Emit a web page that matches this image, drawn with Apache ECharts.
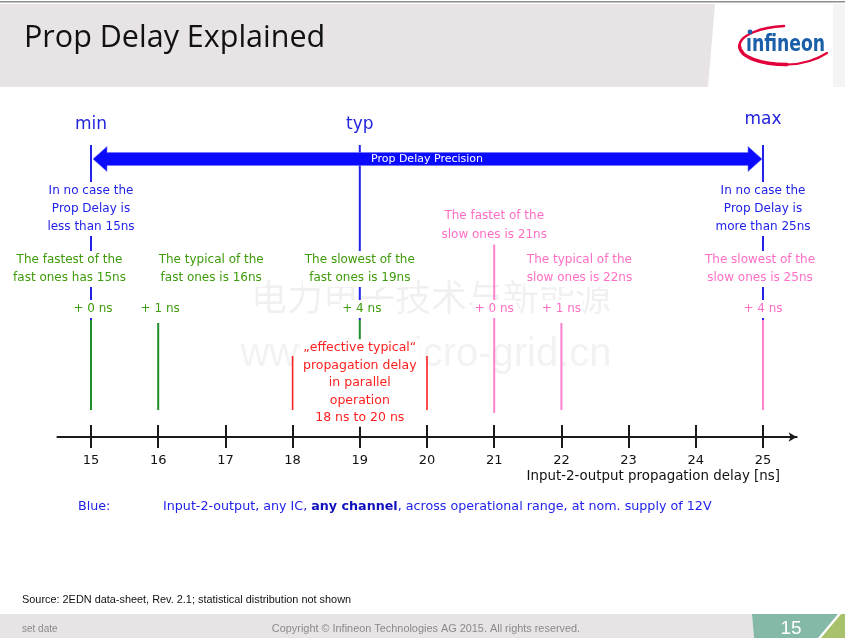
<!DOCTYPE html>
<html>
<head>
<meta charset="utf-8">
<title>Prop Delay Explained</title>
<script src="https://cdn.jsdelivr.net/npm/echarts@6/dist/echarts.min.js"></script>
<style>
  html, body { margin: 0; padding: 0; background: #fff; }
  #chart { width: 845px; height: 638px; }
</style>
</head>
<body>
<div id="chart"></div>
<script>
// values
const ticks = [15, 16, 17, 18, 19, 20, 21, 22, 23, 24, 25];
const boundValues = [15, 19, 25];
const boundNames = ['min', 'typ', 'max'];
const boundNotes = ['In no case the\nProp Delay is\nless than 15ns', '', 'In no case the\nProp Delay is\nmore than 25ns'];
const fastValues = [15, 16, 19];
const fastNotes = ['The fastest of the\nfast ones has 15ns', 'The typical of the\nfast ones is 16ns', 'The slowest of the\nfast ones is 19ns'];
const fastOffsets = ['+ 0 ns', '+ 1 ns', '+ 4 ns'];
const slowValues = [21, 22, 25];
const slowNotes = ['The fastet of the\nslow ones is 21ns', 'The typical of the\nslow ones is 22ns', 'The slowest of the\nslow ones is 25ns'];
const slowOffsets = ['+ 0 ns', '+ 1 ns', '+ 4 ns'];
const parallelRange = [18, 20];
const parallelNote = '\u201eeffective typical\u201c\npropagation delay\nin parallel\noperation\n18 ns to 20 ns';
const precisionLabel = 'Prop Delay Precision';
const axisTitle = 'Input-2-output propagation delay [ns]';

// layout (pixels) – vertical rows and label nudges
const BODY_FONT = '"DejaVu Sans", Verdana, sans-serif';
const NARROW_FONT = '"Liberation Sans", Arial, sans-serif';
const BLUE = '#2222ea';
const GREEN_TEXT = '#3f9b0b';
const GREEN_LINE = '#1f8f2b';
const PINK_TEXT = '#ff6ec4';
const PINK_LINE = '#ff80cf';
const RED = '#ff1f1f';
const LOGO_RED = '#e2003b';

const LAYOUT = {
    nameY: [125, 125, 120],
    lineTop: 145,
    arrowY: 159,
    boundNoteY: 209,
    noteY: 269,
    offsetY: 309,
    markerTop: 320,
    shortTop: 323,
    bottom: 410,
    fastDx: [-21.5, 53, 0],
    slowDx: [0, 18, -3],
    slowNoteY: [225.5, 269, 269],
    slowTop: [243, 323, 320],
    slowBottom: [413, 410, 410],
    redTop: 356,
    redNoteY: 383
};

const coordX = (api, v) => api.coord([v, 0])[0];

function vLine(x, y1, y2, color, width) {
    return {
        type: 'line', z2: 1,
        shape: { x1: x, y1: y1, x2: x, y2: y2 },
        style: { stroke: color, lineWidth: width || 2 }
    };
}

function label(text, x, y, color, extra) {
    return {
        type: 'text', z2: 10,
        style: Object.assign({
            text: text, x: x, y: y, fill: color,
            fontSize: 12, fontFamily: BODY_FONT,
            align: 'center', verticalAlign: 'middle', lineHeight: 18,
            backgroundColor: '#fff', padding: [0, 2]
        }, extra || {})
    };
}

function logoCurve(p, w) {
    return {
        type: 'bezierCurve', z: 1,
        shape: { x1: p[0], y1: p[1], cpx1: p[2], cpy1: p[3], cpx2: p[4], cpy2: p[5], x2: p[6], y2: p[7] },
        style: { fill: 'none', stroke: LOGO_RED, lineWidth: w, lineCap: 'round' }
    };
}

const chart = echarts.init(document.getElementById('chart'));

chart.setOption({
    animation: false,
    backgroundColor: '#fff',
    grid: { left: 57.4, right: 48.4, top: 100, bottom: 201 },
    xAxis: [
        {
            type: 'value', min: 14.5, max: 25.5,
            axisLine: { show: true, symbol: ['none', 'arrow'], symbolSize: [7, 8], lineStyle: { color: '#1a1a1a', width: 2 } },
            axisTick: { show: true, customValues: ticks, length: 11, lineStyle: { color: '#1a1a1a', width: 2 } },
            axisLabel: { customValues: ticks, margin: 17, fontSize: 13, color: '#111', fontFamily: BODY_FONT },
            splitLine: { show: false }
        },
        {
            type: 'value', min: 14.5, max: 25.5, position: 'bottom',
            axisLine: { show: false },
            axisTick: { show: true, inside: true, customValues: ticks, length: 12, lineStyle: { color: '#1a1a1a', width: 2 } },
            axisLabel: { show: false },
            splitLine: { show: false }
        }
    ],
    yAxis: { type: 'value', min: 0, max: 1, show: false },
    graphic: [
        // header
        { type: 'rect', z: 0, shape: { x: 0, y: 1, width: 845, height: 1.5 }, style: { fill: '#8c8c8c' } },
        { type: 'polygon', z: 0, shape: { points: [[0, 4], [715, 4], [708, 87], [0, 87]] }, style: { fill: '#e8e4e5' } },
        { type: 'rect', z: 0, shape: { x: 833, y: 4, width: 12, height: 83 }, style: { fill: '#f5f4f4' } },
        { type: 'text', z: 1, style: { text: 'Prop Delay Explained', x: 24, y: 38, fill: '#111', fontSize: 30.5, fontFamily: '"Open Sans", sans-serif', align: 'left', verticalAlign: 'middle' } },
        // logo
        logoCurve([784, 26, 762, 27, 739, 35, 739.5, 46], 2.4),
        logoCurve([739.5, 46, 740, 57, 760, 64.5, 787, 64.5], 3.4),
        logoCurve([787, 64.5, 803, 64.5, 818, 59, 827, 53], 2.2),
        { type: 'circle', z: 1, shape: { cx: 750, cy: 32, r: 2.4 }, style: { fill: '#1b5fa8' } },
        {
            type: 'text', z: 1, x: 746, y: 45, scaleX: 0.75,
            style: { text: '\u0131nfineon', x: 0, y: 0, fill: '#1b5fa8', fontSize: 23, fontWeight: 'bold', fontFamily: '"DejaVu Sans", sans-serif', align: 'left', verticalAlign: 'middle' }
        },
        // watermark
        { type: 'text', z: 0, style: { text: '电力电子技术与新能源', x: 431, y: 297, fill: 'rgba(0,0,0,0.06)', fontSize: 36, fontFamily: '"Noto Sans CJK SC", sans-serif', align: 'center', verticalAlign: 'middle' } },
        { type: 'text', z: 0, style: { text: 'www.21micro-grid.cn', x: 426, y: 355, fill: 'rgba(0,0,0,0.05)', fontSize: 40, fontFamily: NARROW_FONT, align: 'center', verticalAlign: 'middle' } },
        // axis title and legend line
        { type: 'text', z: 1, style: { text: axisTitle, x: 780, y: 477, fill: '#111', fontSize: 13.4, fontFamily: BODY_FONT, align: 'right', verticalAlign: 'middle' } },
        { type: 'text', z: 1, style: { text: 'Blue:', x: 78, y: 507, fill: BLUE, fontSize: 12.7, fontFamily: BODY_FONT, align: 'left', verticalAlign: 'middle' } },
        {
            type: 'text', z: 1,
            style: {
                text: 'Input-2-output, any IC, {b|any channel}, across operational range, at nom. supply of 12V',
                x: 163, y: 507, fill: BLUE, fontSize: 12.7, fontFamily: BODY_FONT, align: 'left', verticalAlign: 'middle',
                rich: { b: { fill: '#1010c0', fontWeight: 'bold', fontSize: 12.7, fontFamily: BODY_FONT } }
            }
        },
        // footer
        { type: 'text', z: 1, style: { text: 'Source: 2EDN data-sheet, Rev. 2.1; statistical distribution not shown', x: 22, y: 600, fill: '#111', fontSize: 10.9, fontFamily: NARROW_FONT, align: 'left', verticalAlign: 'middle' } },
        { type: 'polygon', z: 0, shape: { points: [[0, 614], [752, 614], [754, 638], [0, 638]] }, style: { fill: '#e8e4e5' } },
        { type: 'polygon', z: 0, shape: { points: [[752, 614], [838, 614], [818, 638], [754, 638]] }, style: { fill: '#83b9a6' } },
        { type: 'polygon', z: 0, shape: { points: [[841, 614], [845, 614], [845, 638], [821, 638]] }, style: { fill: '#a8c26b' } },
        { type: 'text', z: 1, style: { text: 'set date', x: 22, y: 629, fill: '#8a8a8a', fontSize: 10, fontFamily: NARROW_FONT, align: 'left', verticalAlign: 'middle' } },
        { type: 'text', z: 1, style: { text: 'Copyright \u00a9 Infineon Technologies AG 2015. All rights reserved.', x: 426, y: 629, fill: '#8a8a8a', fontSize: 10.9, fontFamily: NARROW_FONT, align: 'center', verticalAlign: 'middle' } },
        { type: 'text', z: 1, style: { text: '15', x: 791, y: 629, fill: '#fff', fontSize: 19, fontFamily: '"Liberation Sans", sans-serif', align: 'center', verticalAlign: 'middle' } }
    ],
    series: [
        {
            // precision arrow between min and max
            type: 'custom', name: 'precision', silent: true,
            data: [[boundValues[0], boundValues[2], 0]],
            encode: { x: [0, 1], y: 2 },
            renderItem: function (params, api) {
                const x0 = coordX(api, api.value(0));
                const x1 = coordX(api, api.value(1));
                const y = LAYOUT.arrowY, hb = 6.5, hh = 12.5, hl = 14;
                const l = x0 + 2, r = x1 - 1;
                return {
                    type: 'group',
                    children: [
                        {
                            type: 'polygon', z2: 5,
                            shape: { points: [[l, y], [l + hl, y - hh], [l + hl, y - hb], [r - hl, y - hb], [r - hl, y - hh], [r, y], [r - hl, y + hh], [r - hl, y + hb], [l + hl, y + hb], [l + hl, y + hh]] },
                            style: { fill: '#0a0aff', stroke: '#7070ff', lineWidth: 0.6 }
                        },
                        {
                            type: 'text', z2: 6,
                            style: { text: precisionLabel, x: (x0 + x1) / 2, y: y, fill: '#fff', fontSize: 11, fontFamily: BODY_FONT, align: 'center', verticalAlign: 'middle' }
                        }
                    ]
                };
            }
        },
        {
            type: 'custom', name: 'bounds', silent: true,
            data: boundValues.map(v => [v, 0]),
            encode: { x: 0, y: 1 },
            renderItem: function (params, api) {
                const i = params.dataIndex;
                const x = coordX(api, api.value(0));
                const kids = [
                    vLine(x, LAYOUT.lineTop, LAYOUT.markerTop, BLUE),
                    label(boundNames[i], x, LAYOUT.nameY[i], '#2424dc', { fontSize: 17, lineHeight: 20, backgroundColor: 'rgba(0,0,0,0)' })
                ];
                if (boundNotes[i]) kids.push(label(boundNotes[i], x, LAYOUT.boundNoteY, BLUE));
                return { type: 'group', children: kids };
            }
        },
        {
            type: 'custom', name: 'fast', silent: true,
            data: fastValues.map(v => [v, 0]),
            encode: { x: 0, y: 1 },
            renderItem: function (params, api) {
                const i = params.dataIndex;
                const v = api.value(0);
                const x = coordX(api, v);
                const top = boundValues.indexOf(v) >= 0 ? LAYOUT.markerTop : LAYOUT.shortTop;
                return {
                    type: 'group',
                    children: [
                        vLine(x, top, LAYOUT.bottom, GREEN_LINE),
                        label(fastNotes[i], x + LAYOUT.fastDx[i], LAYOUT.noteY, GREEN_TEXT),
                        label(fastOffsets[i], x + 2, LAYOUT.offsetY, GREEN_TEXT)
                    ]
                };
            }
        },
        {
            type: 'custom', name: 'slow', silent: true,
            data: slowValues.map(v => [v, 0]),
            encode: { x: 0, y: 1 },
            renderItem: function (params, api) {
                const i = params.dataIndex;
                const x = coordX(api, api.value(0));
                return {
                    type: 'group',
                    children: [
                        vLine(x, LAYOUT.slowTop[i], LAYOUT.slowBottom[i], PINK_LINE),
                        label(slowNotes[i], x + LAYOUT.slowDx[i], LAYOUT.slowNoteY[i], PINK_TEXT, { lineHeight: i === 0 ? 19 : 18 }),
                        label(slowOffsets[i], x, LAYOUT.offsetY, PINK_TEXT)
                    ]
                };
            }
        },
        {
            type: 'custom', name: 'parallel', silent: true,
            data: [[parallelRange[0], parallelRange[1], 0]],
            encode: { x: [0, 1], y: 2 },
            renderItem: function (params, api) {
                const x0 = coordX(api, api.value(0));
                const x1 = coordX(api, api.value(1));
                return {
                    type: 'group',
                    children: [
                        vLine(x0, LAYOUT.redTop, LAYOUT.bottom, RED, 1.6),
                        vLine(x1, LAYOUT.redTop, LAYOUT.bottom, RED, 1.6),
                        label(parallelNote, (x0 + x1) / 2, LAYOUT.redNoteY, RED, { lineHeight: 17.5, fontSize: 12.5, padding: [0, 3] })
                    ]
                };
            }
        }
    ]
});

window.addEventListener('resize', () => chart.resize());
</script>
</body>
</html>
